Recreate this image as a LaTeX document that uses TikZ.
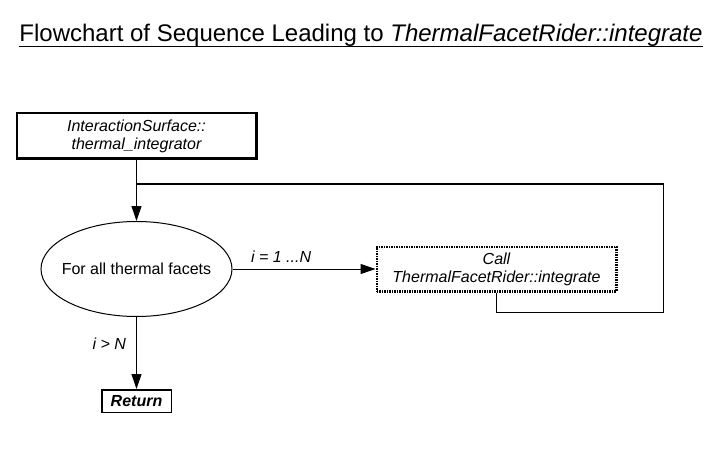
\documentclass[tikz,border=0pt]{standalone}
\usepackage{fontspec}
\setmainfont{Liberation Sans}
\usetikzlibrary{arrows.meta,
                positioning,
                shapes.geometric
                }

\begin{document}
\begin{tikzpicture}[
        x = 1pt, y = -1pt,
        node distance = 61pt and 143pt,
        every node/.style = {font=\fontsize{16}{18}\selectfont},
        box/.style = {draw, line width=2.5pt, align=center, inner sep=0pt,
                      minimum width=239.5pt, minimum height=45.5pt,
                      font=\fontsize{16}{18}\selectfont\itshape},
        loopbox/.style = {box, dash pattern=on 1.6pt off 0.9pt, minimum height=44.5pt},
        mdl/.style = {shape=ellipse, draw, line width=1pt, inner xsep=-8pt, inner ysep=0pt,
                      minimum width=191pt, minimum height=95pt},
        endbox/.style = {draw, line width=1.5pt, inner sep=0pt,
                         minimum width=69.5pt, minimum height=22.5pt,
                         font=\fontsize{16}{18}\selectfont\bfseries\itshape},
        lbl/.style = {font=\fontsize{16}{18}\selectfont\itshape},
        arr/.style = {line width=1pt, -{Triangle[length=15pt, width=10pt]}}
    ]
    \useasboundingbox (0,0) rectangle (714,449);
    % title
    \node (title) [anchor=base, inner sep=0pt, font=\fontsize{24}{28}\selectfont] at (361,42)
        {Flowchart of Sequence Leading to \textit{ThermalFacetRider::integrate}};
    \draw[line width=1.5pt] ([yshift=-4.5pt]title.base west) -- ([yshift=-4.5pt]title.base east);
    % nodes
    \node (surf) [box] at (136.5,136) {
        InteractionSurface::\\
        thermal\_integrator
    };
    \node (facets) [mdl, below=of surf] {For all thermal facets};
    \node (call) [loopbox, right=of facets] {
        Call\\
        ThermalFacetRider::integrate
    };
    \node (ret) [endbox, below=72pt of facets] {Return};
    \coordinate (back) at (663,312);
    \coordinate (merge) at (136.5,184);
    % connectors
    \draw[arr] (surf) -- (facets);
    \draw[arr] (facets) -- node[lbl, above, pos=.34, inner sep=6pt] {i = 1 ...N} (call);
    \draw[arr] (facets) -- node[lbl, left, pos=.37, inner sep=10pt] {i > N} (ret);
    \draw[line width=1pt] (call.south) |- (back) |- (merge);
\end{tikzpicture}
\end{document}
